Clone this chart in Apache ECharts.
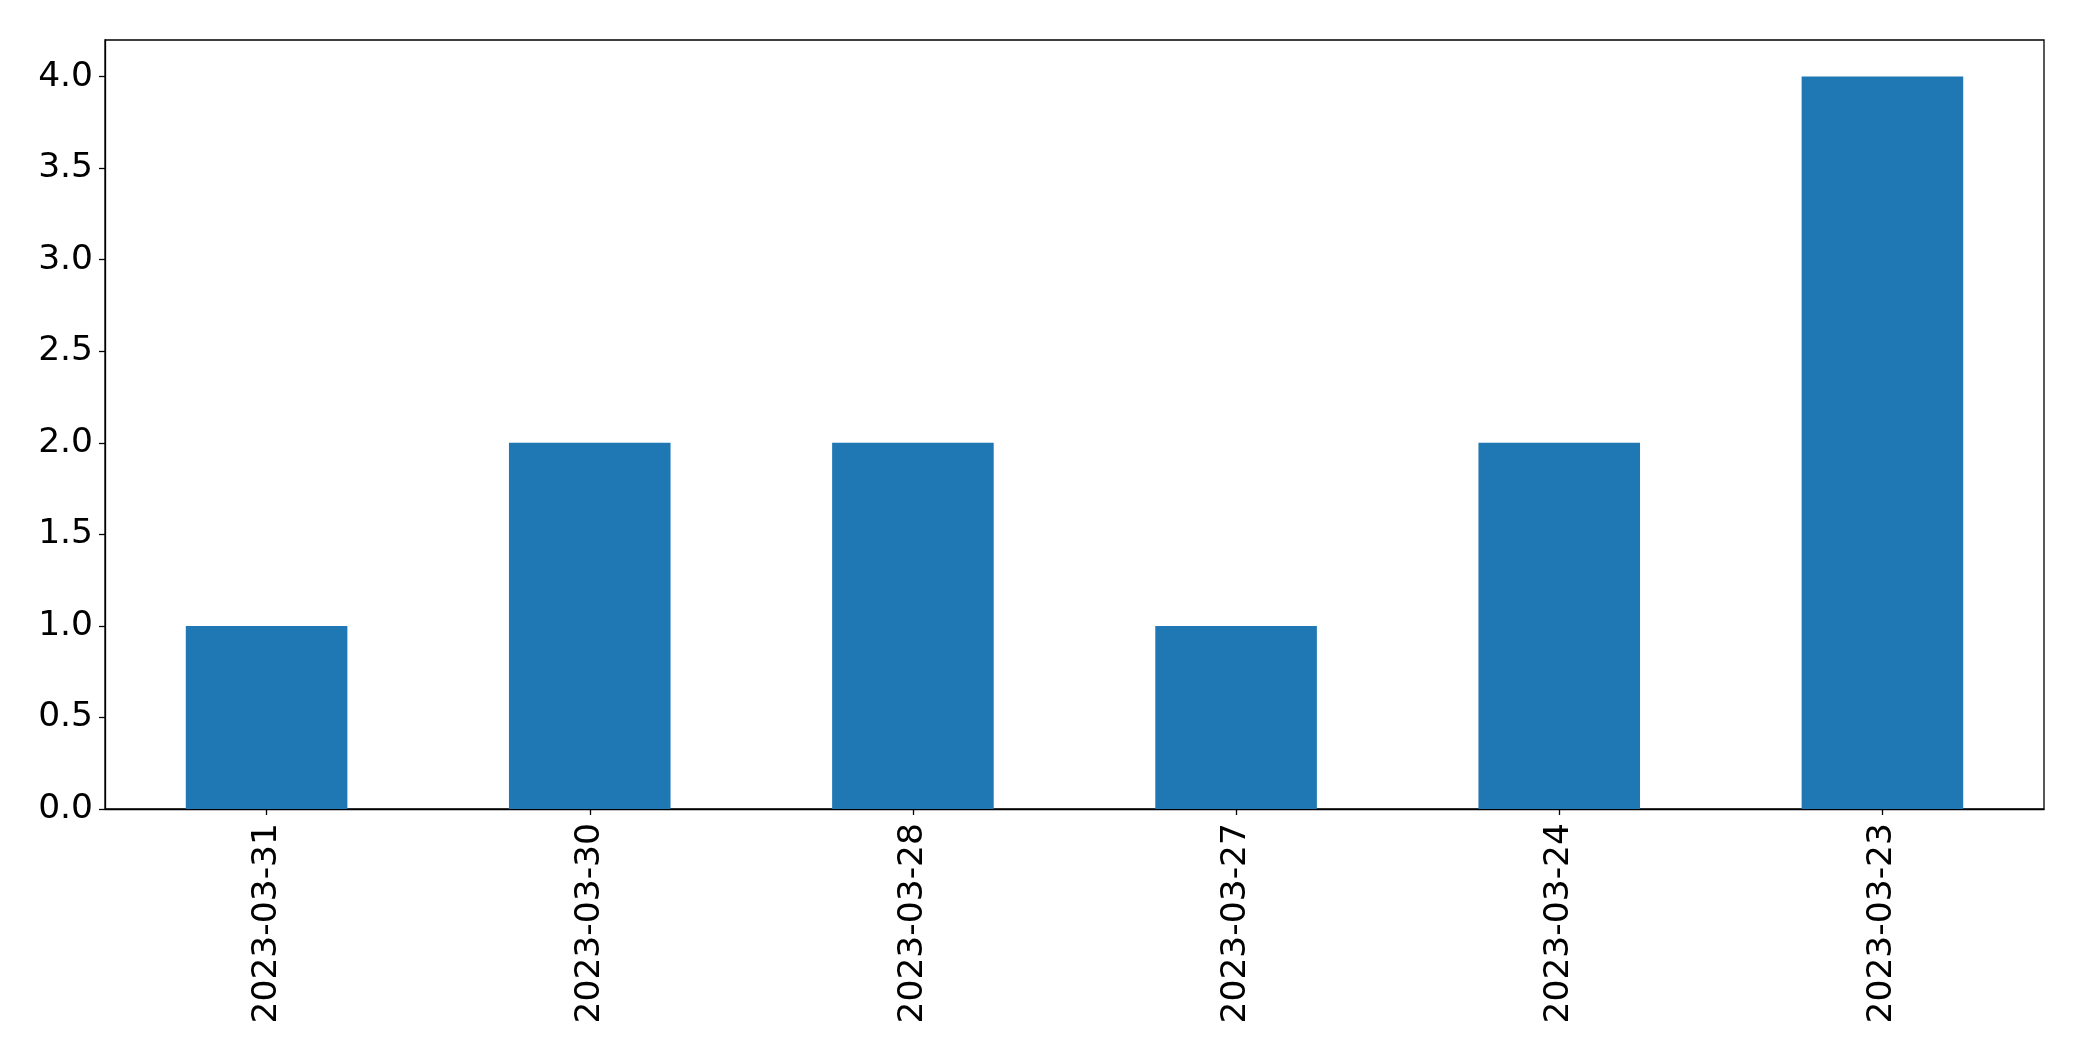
<!DOCTYPE html>
<html>
<head>
<meta charset="utf-8">
<script src="https://cdn.jsdelivr.net/npm/echarts@6/dist/echarts.min.js"></script>
<style>
html,body{margin:0;padding:0;background:#fff;}
#chart{width:2082px;height:1061px;}
</style>
</head>
<body>
<div id="chart"></div>
<script>
const categories = ['2023-03-31','2023-03-30','2023-03-28','2023-03-27','2023-03-24','2023-03-23'];
const values = [1, 2, 2, 1, 2, 4];

const chart = echarts.init(document.getElementById('chart'), null, {renderer:'canvas'});
const font = 'DejaVu Sans';
chart.setOption({
  animation: false,
  backgroundColor: '#ffffff',
  grid: {
    left: 105, top: 40, right: 38, bottom: 252,
    show: true, borderColor: '#000', borderWidth: 1.3, backgroundColor: 'transparent'
  },
  xAxis: {
    type: 'category',
    data: categories,
    axisLine: {show: true, lineStyle: {color: '#000', width: 1.3}},
    axisTick: {show: true, alignWithLabel: true, length: 6, lineStyle: {color: '#000', width: 1.3}},
    axisLabel: {rotate: 90, margin: 14, color: '#000', fontSize: 34.5, fontFamily: font, interval: 0},
    splitLine: {show: false}
  },
  yAxis: {
    type: 'value',
    min: 0, max: 4.2, interval: 0.5,
    axisLine: {show: true, lineStyle: {color: '#000', width: 1.3}},
    axisTick: {show: true, length: 6, lineStyle: {color: '#000', width: 1.3}},
    axisLabel: {color: '#000', fontSize: 34.5, fontFamily: font, margin: 12, showMaxLabel: false,
      formatter: v => v.toFixed(1)},
    splitLine: {show: false}
  },
  series: [{
    type: 'bar',
    data: values,
    barWidth: '50%',
    itemStyle: {color: '#1f77b4'}
  }]
});
</script>
</body>
</html>
